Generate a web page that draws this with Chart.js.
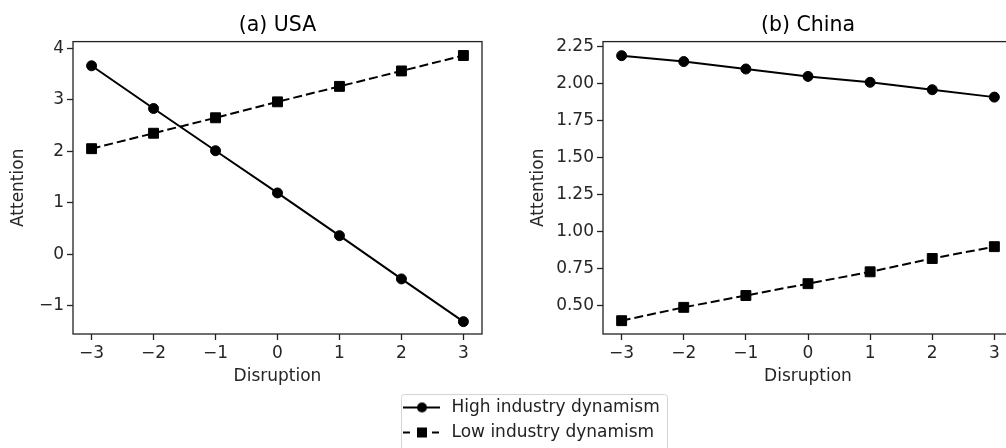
<!DOCTYPE html>
<html>
<head>
<meta charset="utf-8">
<script src="https://cdn.jsdelivr.net/npm/chart.js@4.4.1/dist/chart.umd.min.js"></script>
<style>
  html, body { margin: 0; padding: 0; background: #fff; overflow: hidden; }
  #wrap { position: relative; width: 1006px; height: 448px; overflow: hidden; }
  canvas { position: absolute; }
  #usa { left: 0; top: 0; }
  #china { left: 520px; top: 0; }
  #legend { left: 393px; top: 391px; }
</style>
</head>
<body>
<div id="wrap">
  <canvas id="usa" width="500" height="387"></canvas>
  <canvas id="china" width="520" height="387"></canvas>
  <canvas id="legend" width="610" height="60"></canvas>
</div>
<script>
// Data
const disruption = [-3, -2, -1, 0, 1, 2, 3];
const seriesNames = ["High industry dynamism", "Low industry dynamism"];

const usaHigh = [3.66, 2.83, 2.01, 1.19, 0.36, -0.48, -1.31];
const usaLow = [2.05, 2.35, 2.65, 2.96, 3.26, 3.56, 3.86];
const chinaHigh = [2.19, 2.15, 2.10, 2.05, 2.01, 1.96, 1.91];
const chinaLow = [0.40, 0.49, 0.57, 0.65, 0.73, 0.82, 0.90];

const xTicks = [-3, -2, -1, 0, 1, 2, 3];
const usaYTicks = [-1, 0, 1, 2, 3, 4];
const chinaYTicks = [0.50, 0.75, 1.00, 1.25, 1.50, 1.75, 2.00, 2.25];

Chart.defaults.font.family = "'DejaVu Sans', sans-serif";
Chart.defaults.font.size = 17;
Chart.defaults.color = "#262626";

// matplotlib style minus sign
const fmt = (v, d) => v.toFixed(d).replace("-", "\u2212");

// box around the plot area (all four spines)
const framePlugin = {
    id: "frame",
    afterDraw(chart) {
        const a = chart.chartArea;
        const ctx = chart.ctx;
        ctx.save();
        ctx.strokeStyle = "#222";
        ctx.lineWidth = 1.3;
        ctx.strokeRect(a.left, a.top, a.right - a.left, a.bottom - a.top);
        ctx.restore();
    }
};

function points(ys) {
    return disruption.map((x, i) => ({ x: x, y: ys[i] }));
}

function makePanel(id, title, high, low, yMin, yMax, yTicks, decimals, axisWidth, padRight) {
    new Chart(document.getElementById(id), {
        type: "line",
        data: {
            datasets: [{
                label: seriesNames[0],
                data: points(high),
                borderColor: "#000",
                backgroundColor: "#000",
                borderWidth: 2,
                pointStyle: "circle",
                pointRadius: 5,
                pointBorderWidth: 1,
                fill: false
            }, {
                label: seriesNames[1],
                data: points(low),
                borderColor: "#000",
                backgroundColor: "#000",
                borderWidth: 2,
                borderDash: [9, 4],
                pointStyle: "rect",
                pointRadius: 7,
                pointBorderWidth: 1,
                fill: false
            }]
        },
        options: {
            responsive: false,
            animation: false,
            layout: { padding: { right: padRight } },
            plugins: {
                legend: { display: false },
                tooltip: { enabled: false },
                title: {
                    display: true,
                    text: title,
                    fullSize: false,
                    color: "#000",
                    font: { size: 20.5, weight: "normal" },
                    padding: { top: 13, bottom: 4 }
                }
            },
            scales: {
                x: {
                    type: "linear",
                    min: -3.3,
                    max: 3.3,
                    afterBuildTicks: s => { s.ticks = xTicks.map(v => ({ value: v })); },
                    afterFit: s => { s.height = 53; },
                    border: { display: false },
                    grid: { drawOnChartArea: false, tickLength: 6, tickColor: "#222", tickWidth: 1.3 },
                    ticks: { padding: 3, maxRotation: 0, callback: v => fmt(v, 0) },
                    title: { display: true, text: "Disruption", padding: { top: 0, bottom: 0 } }
                },
                y: {
                    min: yMin,
                    max: yMax,
                    afterBuildTicks: s => { s.ticks = yTicks.map(v => ({ value: v })); },
                    afterFit: s => { s.width = axisWidth; },
                    border: { display: false },
                    grid: { drawOnChartArea: false, tickLength: 6, tickColor: "#222", tickWidth: 1.3 },
                    ticks: { padding: 3, callback: v => fmt(v, decimals) },
                    title: { display: true, text: "Attention", padding: { top: 8, bottom: 0 } }
                }
            }
        },
        plugins: [framePlugin]
    });
}

makePanel("usa", "(a) USA", usaHigh, usaLow, -1.55, 4.13, usaYTicks, 0, 73, 18);
makePanel("china", "(b) China", chinaHigh, chinaLow, 0.31, 2.285, chinaYTicks, 2, 83, 27);

// legend symbols: line with marker in the middle
function legendIcon(dashed) {
    const c = document.createElement("canvas");
    c.width = 42;
    c.height = 18;
    const ctx = c.getContext("2d");
    ctx.strokeStyle = "#000";
    ctx.fillStyle = "#000";
    ctx.lineWidth = 2;
    if (dashed) ctx.setLineDash([7, 22]);
    ctx.beginPath();
    ctx.moveTo(2, 9);
    ctx.lineTo(39, 9);
    ctx.stroke();
    ctx.setLineDash([]);
    if (dashed) {
        ctx.fillRect(16, 4, 10, 10);
    } else {
        ctx.beginPath();
        ctx.arc(21, 9, 5, 0, Math.PI * 2);
        ctx.fill();
    }
    return c;
}

const legendFrame = {
    id: "legendFrame",
    afterDraw(chart) {
        const l = chart.legend;
        const ctx = chart.ctx;
        ctx.save();
        ctx.strokeStyle = "#d5d5d5";
        ctx.lineWidth = 1;
        ctx.beginPath();
        ctx.roundRect(l.left + 8.5, l.top + 3.5, 266, 80, 3);
        ctx.stroke();
        ctx.restore();
    }
};

// shared figure legend
new Chart(document.getElementById("legend"), {
    type: "line",
    data: {
        datasets: [
            { label: seriesNames[0], data: [], borderColor: "#000", pointStyle: legendIcon(false) },
            { label: seriesNames[1], data: [], borderColor: "#000", pointStyle: legendIcon(true) }
        ]
    },
    options: {
        responsive: false,
        animation: false,
        scales: { x: { display: false }, y: { display: false } },
        plugins: {
            tooltip: { enabled: false },
            legend: {
                position: "left",
                align: "start",
                labels: { usePointStyle: true, pointStyleWidth: 42, padding: 8, color: "#222", font: { size: 17 } }
            }
        }
    },
    plugins: [legendFrame]
});
</script>
</body>
</html>
